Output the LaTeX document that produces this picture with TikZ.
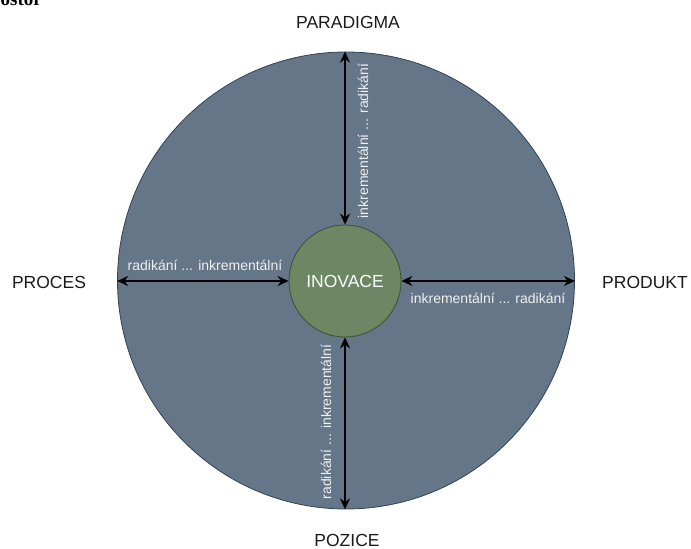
\documentclass[tikz,border=0pt]{standalone}
\usepackage{fontspec}
\setmainfont{Liberation Sans}
\newfontfamily\headserif{Liberation Serif}
\usetikzlibrary{arrows.meta}
\definecolor{slatefill}{HTML}{647687}
\definecolor{slateline}{HTML}{314354}
\definecolor{greenfill}{HTML}{6D8764}
\definecolor{greenline}{HTML}{3A5431}
\definecolor{labelink}{HTML}{1A1A1A}
\tikzset{
  x=1pt, y=1pt,
  sphere/.style={circle, draw=slateline, fill=slatefill, line width=0.8pt, minimum size=457pt, inner sep=0pt},
  core/.style={circle, draw=greenline, fill=greenfill, line width=0.8pt, minimum size=112pt, inner sep=0pt,
               text=white, font=\fontsize{17.5}{20}\selectfont},
  axis/.style={line width=2.5pt, {Stealth[length=11pt,width=10pt]}-{Stealth[length=11pt,width=10pt]}},
  scale label/.style={text=white!94!black, font=\fontsize{14}{16}\selectfont, inner sep=0pt},
  pole/.style={text=labelink, font=\fontsize{17.5}{20}\selectfont, inner sep=0pt},
}
\begin{document}
\begin{tikzpicture}
  \useasboundingbox (0,0) rectangle (691,549);
  \clip (0,0) rectangle (691,549);

  % heading running off the top edge
  \node[anchor=base east, inner sep=0pt, font=\headserif\bfseries\fontsize{19}{22}\selectfont, text=black]
    (heading) at (42,543) {ostor};

  % outer field and the innovation core
  \node[sphere] (outer) at (346,268.5) {};
  \node[core] (ino) at (345,268) {INOVACE};

  % four axes from the core to the edge of the field
  \draw[axis] (ino.north) -- (ino.north |- outer.north);
  \draw[axis] (ino.south) -- (ino.south |- outer.south);
  \draw[axis] (ino.west) -- (outer.west |- ino.west);
  \draw[axis] (ino.east) -- (outer.east |- ino.east);

  % scale labels along the axes
  \node[scale label, rotate=90] (lblN) at (363,408) {inkrementální ... radikání};
  \node[scale label, rotate=90] (lblS) at (326,127) {radikání ... inkrementální};
  \node[scale label] (lblW) at (205,284) {radikání ... inkrementální};
  \node[scale label] (lblE) at (488,251) {inkrementální ... radikání};

  % pole names
  \node[pole] (paradigma) at (348,527) {PARADIGMA};
  \node[pole] (proces) at (49,267) {PROCES};
  \node[pole] (produkt) at (645,267) {PRODUKT};
  \node[pole] (pozice) at (347,9) {POZICE};
\end{tikzpicture}
\end{document}
